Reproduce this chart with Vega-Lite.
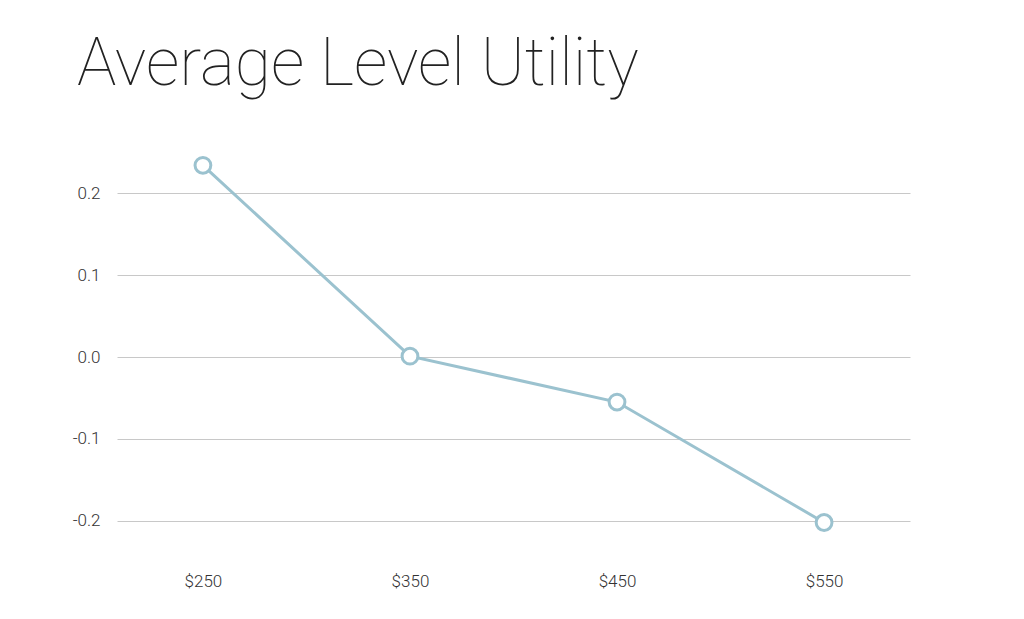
{
  "$schema": "https://vega.github.io/schema/vega-lite/v6.json",
  "autosize": "none",
  "width": 793,
  "height": 426,
  "padding": {"left": 117, "top": 144, "right": 114, "bottom": 49},
  "background": "white",
  "title": {
    "text": "Average Level Utility",
    "anchor": "start",
    "frame": "group",
    "font": "Roboto",
    "fontWeight": 100,
    "fontSize": 66,
    "color": "#222222",
    "baseline": "alphabetic",
    "offset": 0,
    "dx": -40,
    "dy": 7
  },
  "data": {
    "values": [
      {"price": "$250", "utility": 0.234},
      {"price": "$350", "utility": 0.001},
      {"price": "$450", "utility": -0.055},
      {"price": "$550", "utility": -0.202}
    ]
  },
  "encoding": {
    "x": {
      "field": "price",
      "type": "ordinal",
      "sort": null,
      "scale": {"type": "point", "padding": 0.415},
      "axis": {
        "title": null,
        "labelAngle": 0,
        "domain": false,
        "ticks": false,
        "grid": false,
        "labelPadding": 3,
        "labelFont": "Roboto",
        "labelFontWeight": 300,
        "labelFontSize": 17,
        "labelColor": "#333333"
      }
    },
    "y": {
      "field": "utility",
      "type": "quantitative",
      "scale": {"domain": [-0.26, 0.26], "nice": false, "zero": false},
      "axis": {
        "title": null,
        "values": [-0.2, -0.1, 0, 0.1, 0.2],
        "labelExpr": "replace(format(datum.value, '.1f'), '\u2212', '-')",
        "domain": false,
        "ticks": false,
        "labelPadding": 17,
        "labelFont": "Roboto",
        "labelFontWeight": 300,
        "labelFontSize": 17,
        "labelColor": "#333333",
        "gridColor": "#c8c8c8",
        "gridWidth": 1
      }
    }
  },
  "layer": [
    {"mark": {"type": "line", "color": "#9bc2cf", "strokeWidth": 3}},
    {"mark": {"type": "point", "shape": "circle", "filled": true, "fill": "white", "stroke": "#9bc2cf", "strokeWidth": 3, "size": 250, "opacity": 1}}
  ],
  "config": {"view": {"stroke": null}}
}
